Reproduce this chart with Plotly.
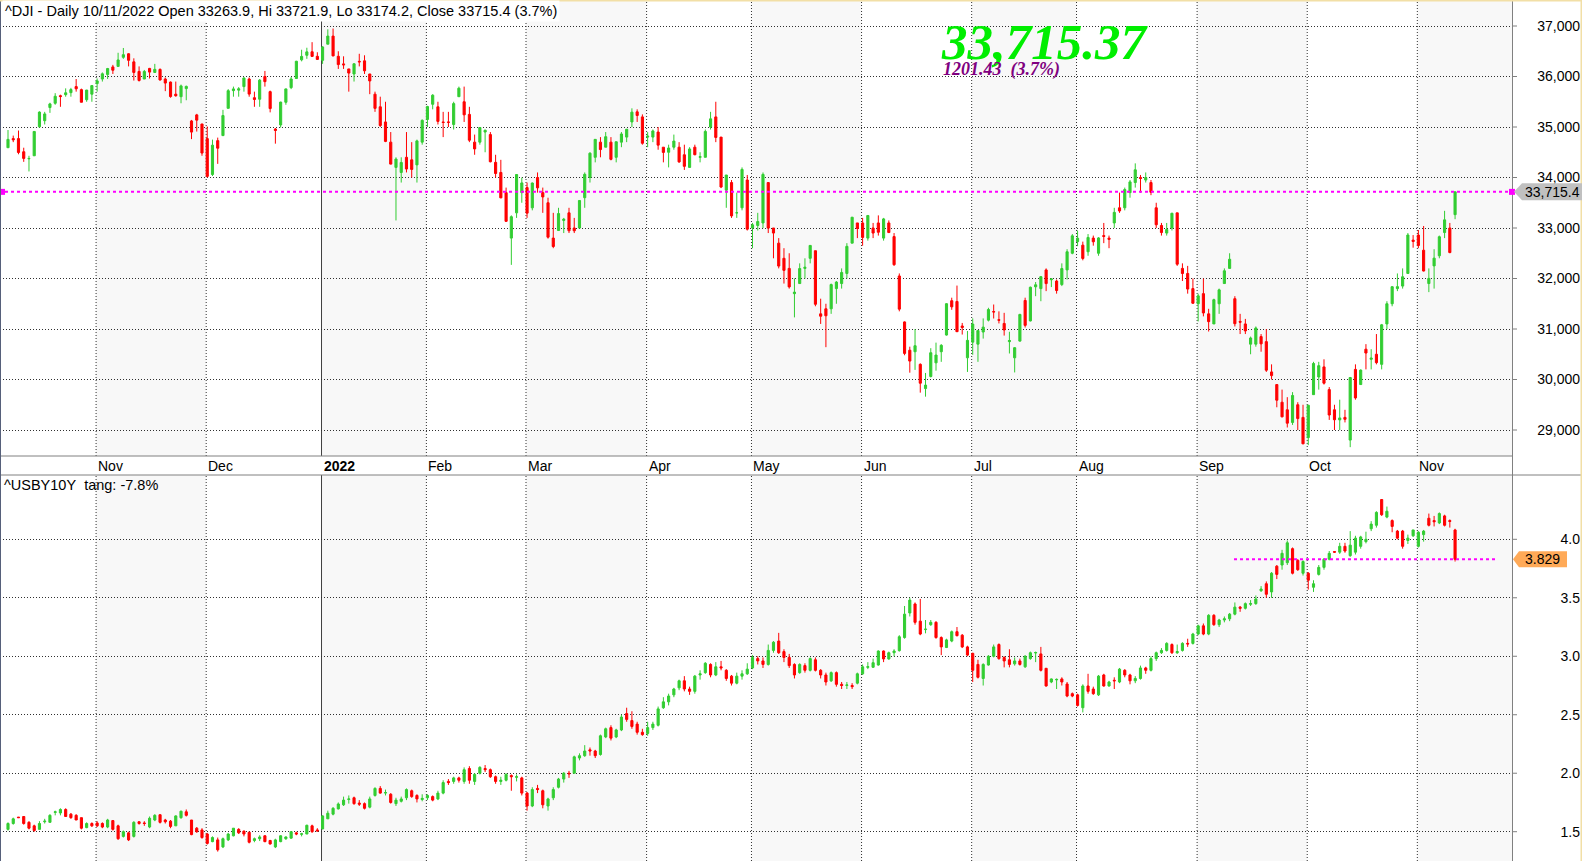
import pandas as pd
import plotly.graph_objects as go

# ---------------- data ----------------
holidays = ["2021-11-25", "2021-12-24", "2022-01-17", "2022-02-21", "2022-04-15",
            "2022-05-30", "2022-06-20", "2022-07-04", "2022-09-05"]
dates = pd.bdate_range("2021-10-07", "2022-11-10", freq="C", holidays=holidays)

dji_open = [
    34590, 34770, 34770, 34510, 34370, 34430, 35005, 35125, 35385, 35470, 35620, 35640, 35680, 35800, 35740, 35540, 35650,
    35860, 35950, 36040, 36190, 36200, 36380, 36450, 36290, 36100, 35950, 36160, 36080, 36140, 35950, 35890, 35650, 35600, 35760, 35120, 35240, 35060,
    34770, 34060, 34730, 34830, 35370, 35720, 35730, 35800, 35950, 35580, 35550, 36000, 35700, 34960, 35040, 35490, 35780, 35960, 36330, 36420, 36490, 36400,
    36320, 36640, 36800, 36400, 36250, 36150, 36050, 36300, 36310, 36050, 35650, 35400, 35100, 34700, 34200, 34100, 34400, 34350, 34250, 34700,
    35150, 35450, 35400, 35100, 35100, 35050, 35600, 35500, 35250, 34700, 34700, 34900, 34850, 34300, 34100, 33700, 32800, 33300, 33700,
    33800, 33400, 34000, 33700, 33500, 32800, 32950, 33150, 33300, 33000, 33000, 33600, 34000, 34400, 34700, 34600, 34700, 34400, 34700, 34800, 35100, 35300, 35200,
    34800, 34800, 34900, 34600, 34500, 34600, 34600, 34450, 34200, 34600, 34400, 34400, 35000, 35200, 34800, 33750, 33900, 33300, 33400, 33950,
    33000, 33050, 33100, 33900, 33000, 32700, 32400, 32200, 31700, 31900, 32200, 32400, 32550, 31300, 31400, 31400, 31800, 31900, 32100, 32700, 33100,
    33100, 32800, 33000, 33100, 32800, 33100, 32830, 32050, 31140, 30580, 30550, 30300, 29820, 30060, 30330, 30550, 30880, 31560, 31545, 31060, 30430,
    30740, 30700, 30940, 31175, 31345, 31185, 31110, 30750, 30430, 30760, 31565, 31160, 31835, 31800, 32170, 31975, 31950, 31880, 32170, 32500,
    32730, 32660, 32530, 32800, 32500, 32850, 32800, 33100, 33400, 33400, 33700, 33900, 34000, 33950, 33900, 33400, 33050, 32900, 33000, 33300, 32200, 32100, 31800,
    31500, 31700, 31300, 31100, 31500, 31900, 32200, 31600, 31150, 31100, 30700, 30700, 30850, 30750, 30150, 29900, 29550, 29400, 29150, 29500, 29250,
    28850, 29700, 30050, 30250, 29800, 29400, 29200, 29250, 28800, 30200, 29900, 30600, 30400, 30500, 30300, 31100, 31500, 31800, 31850, 32100, 32760,
    32860, 32560, 31900, 32250, 32450, 32910, 33000, 33263.9,
]
dji_high = [
    34940, 34830, 34930, 34590, 34430, 34920, 35310, 35300, 35480, 35670, 35640, 35765, 35775, 35950, 35760, 35735, 35830,
    35960, 36080, 36170, 36230, 36470, 36565, 36460, 36360, 36200, 36130, 36170, 36250, 36160, 35980, 35900, 35900, 35840, 35820, 35140, 35260, 35060,
    35010, 34750, 34790, 35340, 35750, 35800, 35790, 35980, 35980, 35700, 35950, 36110, 35720, 34980, 35500, 35760, 35990, 36310, 36530, 36570, 36680, 36480,
    36600, 36935, 36950, 36500, 36400, 36150, 36260, 36450, 36420, 36050, 35700, 35600, 35500, 34900, 34400, 34400, 34900, 34700, 34750, 35150,
    35420, 35650, 35500, 35300, 35300, 35500, 35800, 35800, 35400, 34850, 35000, 34950, 34900, 34450, 34350, 33800, 33250, 34060, 34000,
    33900, 33900, 34100, 33800, 33600, 33300, 33400, 33200, 33400, 33200, 33550, 34100, 34500, 34760, 34800, 34900, 34800, 34710, 34900, 34960, 35370, 35350, 35250,
    34900, 34950, 35000, 34600, 34650, 34850, 34700, 34650, 34600, 34650, 34500, 34950, 35300, 35500, 34800, 34050, 33950, 33700, 34200, 34050,
    33100, 33300, 34100, 33900, 33000, 32800, 32600, 32500, 32000, 32300, 32400, 32660, 32550, 31600, 31500, 31900, 31950, 32200, 32700, 33220, 33100,
    33200, 33250, 33100, 33250, 33200, 33150, 32900, 32100, 31150, 30650, 31000, 30320, 30130, 30620, 30730, 30700, 31510, 31620, 31860, 31120, 30960,
    31210, 30980, 31210, 31420, 31485, 31350, 31320, 30945, 30640, 31300, 31620, 31840, 31930, 32050, 32200, 32010, 31980, 32300, 32580, 32880,
    32950, 32730, 32880, 32850, 32820, 33100, 32850, 33400, 33700, 33800, 33950, 34280, 34050, 34100, 33950, 33500, 33100, 33100, 33300, 33300, 32300, 32250, 32000,
    31700, 32000, 31400, 31600, 31800, 32200, 32500, 31650, 31300, 31200, 30850, 31050, 30900, 31000, 30300, 29900, 29800, 29650, 29750, 29550, 29500,
    29500, 30350, 30350, 30400, 29850, 29500, 29600, 29400, 30050, 30300, 30200, 30700, 30600, 30900, 31100, 31550, 31850, 32100, 32200, 32900, 32860,
    32960, 33040, 32200, 32580, 32850, 33340, 33100, 33721.9,
]
dji_low = [
    34590, 34700, 34460, 34310, 34120, 34430, 34990, 35050, 35280, 35440, 35400, 35600, 35600, 35700, 35490, 35500, 35500,
    35700, 35900, 35950, 36050, 36200, 36350, 36200, 35920, 35900, 35950, 35960, 36070, 35920, 35710, 35580, 35600, 35470, 35530, 34760, 34910, 34430,
    34000, 34030, 34270, 34820, 35370, 35600, 35600, 35700, 35600, 35400, 35400, 35800, 35290, 34670, 34990, 35440, 35750, 35960, 36300, 36350, 36390, 36330,
    36250, 36640, 36400, 36150, 36150, 35700, 35900, 36200, 36050, 35650, 35300, 35000, 34700, 34260, 33150, 33900, 34100, 34000, 33900, 34650,
    35000, 35350, 35050, 34800, 35000, 34950, 35600, 35100, 34700, 34450, 34650, 34500, 34300, 34000, 33590, 33120, 32270, 33200, 33500,
    33200, 33350, 33700, 33300, 32790, 32600, 32950, 32900, 32900, 32900, 33000, 33400, 33900, 34300, 34400, 34600, 34340, 34300, 34600, 34700, 35000, 35100, 34650,
    34600, 34700, 34550, 34300, 34200, 34550, 34290, 34150, 34200, 34440, 34300, 34400, 34950, 34700, 33790, 33400, 33200, 33200, 33350, 32950,
    32600, 32950, 33000, 32900, 32400, 32200, 31900, 31800, 31230, 31900, 32000, 32300, 31450, 31100, 30640, 31300, 31500, 31800, 32000, 32700, 32800,
    32650, 32750, 32800, 32850, 32750, 32900, 32250, 31350, 30480, 30135, 30190, 29740, 29660, 30040, 30175, 30350, 30870, 31380, 30940, 30890, 30150,
    30490, 30350, 30810, 31150, 31208, 31110, 30870, 30515, 30140, 30750, 31030, 31150, 31650, 31550, 31750, 31830, 31700, 31850, 31980, 32480,
    32640, 32360, 32450, 32650, 32450, 32700, 32600, 33000, 33300, 33350, 33600, 33800, 33700, 33900, 33650, 33000, 32850, 32850, 32950, 32250, 31950, 31700, 31500,
    31150, 31250, 30950, 31100, 31300, 31900, 32200, 31050, 30900, 30900, 30500, 30650, 30550, 30150, 30000, 29450, 29250, 29050, 29100, 29000, 28720,
    28700, 29700, 29800, 29900, 29200, 29000, 29000, 29150, 28660, 29600, 29900, 30200, 30200, 30300, 30200, 31000, 31450, 31750, 31800, 32100, 32610,
    32600, 32140, 31730, 31800, 32400, 32800, 32500, 33174.2,
]
dji_close = [
    34755, 34746, 34496, 34378, 34377, 34912, 35295, 35259, 35457, 35609, 35603, 35677, 35741, 35757, 35490, 35731, 35820,
    35913, 36053, 36158, 36124, 36328, 36432, 36320, 36080, 35921, 36100, 36087, 36142, 35931, 35870, 35602, 35619, 35814, 35804, 34899, 35136, 34484,
    34022, 34640, 34580, 35227, 35719, 35754, 35755, 35971, 35651, 35545, 35928, 35898, 35365, 34932, 35493, 35754, 35951, 36302, 36398, 36488, 36398, 36338,
    36585, 36800, 36408, 36236, 36231, 36068, 36252, 36290, 36113, 35912, 35369, 35029, 34715, 34265, 34365, 34298, 34168, 34160, 34725, 35132,
    35405, 35630, 35111, 35089, 35092, 35463, 35768, 35241, 34738, 34566, 34989, 34935, 34312, 34079, 33597, 33132, 33224, 34059, 33893,
    33294, 33891, 33795, 33615, 32818, 32633, 33286, 33174, 32945, 32945, 33545, 34063, 34481, 34755, 34553, 34808, 34359, 34708, 34862, 34956, 35294, 35228, 34678,
    34818, 34922, 34641, 34497, 34584, 34721, 34309, 34221, 34565, 34451, 34412, 34912, 35161, 34793, 33811, 34049, 33240, 33302, 34160, 32977,
    33062, 33129, 34061, 32998, 32900, 32246, 32161, 31834, 31730, 32197, 32223, 32655, 31490, 31253, 31262, 31880, 31929, 32120, 32637, 33213, 32990,
    32813, 33248, 32900, 32916, 33180, 32910, 32273, 31393, 30517, 30365, 30669, 29927, 29889, 30530, 30484, 30677, 31501, 31439, 30947, 31029, 30775,
    31097, 30968, 31037, 31385, 31338, 31173, 30981, 30772, 30630, 31289, 31072, 31827, 31875, 32036, 31899, 31990, 31762, 32197, 32530, 32845,
    32798, 32397, 32813, 32727, 32803, 32833, 32775, 33310, 33337, 33761, 33913, 34152, 33981, 33999, 33707, 33064, 32910, 32970, 33292, 32283, 32099, 31791, 31510,
    31656, 31318, 31146, 31581, 31775, 32152, 32381, 31105, 31135, 30962, 30822, 31020, 30706, 30184, 30077, 29590, 29261, 29135, 29684, 29226, 28726,
    29490, 30317, 30274, 29927, 29297, 29203, 29239, 29211, 30039, 29635, 30186, 30524, 30424, 30334, 31083, 31500, 31837, 31839, 32034, 32861, 32733,
    32653, 32148, 32002, 32403, 32827, 33161, 32513.94, 33715.37,
]

y10_open = [
    1.52, 1.57, 1.625, 1.63, 1.58, 1.55, 1.52, 1.585, 1.58, 1.665, 1.66, 1.69, 1.65, 1.64, 1.62, 1.535, 1.57,
    1.575, 1.57, 1.54, 1.595, 1.55, 1.46, 1.49, 1.46, 1.585, 1.575, 1.54, 1.60, 1.645, 1.60, 1.59, 1.55, 1.62, 1.67, 1.60, 1.53, 1.515,
    1.48, 1.415, 1.43, 1.37, 1.43, 1.465, 1.52, 1.505, 1.495, 1.425, 1.44, 1.465, 1.425, 1.37, 1.415, 1.44, 1.445, 1.49, 1.478, 1.48, 1.55, 1.515,
    1.524, 1.61, 1.65, 1.695, 1.73, 1.775, 1.79, 1.745, 1.74, 1.71, 1.81, 1.87, 1.83, 1.82, 1.74, 1.76, 1.79, 1.85, 1.81, 1.775,
    1.79, 1.80, 1.78, 1.83, 1.93, 1.93, 1.96, 1.93, 2.04, 1.93, 2.00, 2.04, 2.03, 1.97, 1.93, 1.94, 1.98, 1.965, 1.96,
    1.83, 1.72, 1.87, 1.85, 1.72, 1.79, 1.88, 1.95, 2.00, 2.00, 2.13, 2.15, 2.20, 2.19, 2.16, 2.31, 2.39, 2.31, 2.37, 2.51, 2.45, 2.42, 2.35,
    2.34, 2.39, 2.41, 2.56, 2.61, 2.67, 2.73, 2.79, 2.72, 2.70, 2.84, 2.86, 2.93, 2.84, 2.91, 2.88, 2.83, 2.77, 2.83, 2.85,
    2.90, 2.98, 2.96, 2.93, 3.05, 3.13, 3.04, 2.99, 2.93, 2.86, 2.92, 2.88, 2.97, 2.88, 2.84, 2.79, 2.86, 2.76, 2.75, 2.75, 2.77,
    2.85, 2.905, 2.906, 2.925, 3.045, 2.977, 3.03, 3.048, 3.16, 3.37, 3.447, 3.30, 3.228, 3.27, 3.29, 3.16, 3.075, 3.13, 3.21, 3.18, 3.08,
    3.025, 2.93, 2.81, 2.925, 3.00, 3.10, 2.99, 2.97, 2.935, 2.96, 2.91, 2.98, 3.028, 3.02, 2.897, 2.78, 2.798, 2.806, 2.763, 2.68,
    2.67, 2.56, 2.746, 2.72, 2.67, 2.84, 2.746, 2.795, 2.78, 2.88, 2.84, 2.79, 2.81, 2.90, 2.88, 2.98, 3.03, 3.05, 3.10, 3.03, 3.05, 3.11, 3.11,
    3.19, 3.26, 3.19, 3.35, 3.27, 3.31, 3.32, 3.36, 3.42, 3.41, 3.445, 3.45, 3.56, 3.62, 3.55, 3.77, 3.78, 3.80, 3.92, 3.82, 3.71,
    3.71, 3.59, 3.70, 3.76, 3.83, 3.895, 3.89, 3.94, 3.86, 3.89, 3.94, 3.98, 4.09, 4.12, 4.34, 4.19, 4.16, 4.07, 4.07, 3.99, 4.03,
    3.94, 4.04, 4.18, 4.16, 4.14, 4.20, 4.16, 4.08,
]
y10_high = [
    1.58, 1.62, 1.625, 1.63, 1.59, 1.56, 1.59, 1.61, 1.65, 1.68, 1.70, 1.70, 1.66, 1.65, 1.62, 1.58, 1.58,
    1.59, 1.58, 1.61, 1.60, 1.56, 1.51, 1.50, 1.59, 1.59, 1.59, 1.63, 1.65, 1.65, 1.61, 1.60, 1.64, 1.68, 1.69, 1.60, 1.54, 1.53,
    1.49, 1.46, 1.45, 1.45, 1.49, 1.53, 1.53, 1.51, 1.50, 1.45, 1.47, 1.47, 1.43, 1.44, 1.47, 1.46, 1.50, 1.50, 1.49, 1.56, 1.56, 1.53,
    1.64, 1.68, 1.71, 1.75, 1.80, 1.81, 1.80, 1.77, 1.75, 1.80, 1.88, 1.89, 1.86, 1.83, 1.79, 1.80, 1.87, 1.86, 1.82, 1.82,
    1.82, 1.81, 1.85, 1.94, 1.95, 1.97, 1.97, 2.05, 2.06, 2.00, 2.06, 2.07, 2.04, 1.98, 1.97, 2.00, 1.99, 1.99, 1.97,
    1.84, 1.88, 1.90, 1.86, 1.79, 1.88, 1.96, 2.01, 2.02, 2.15, 2.17, 2.24, 2.22, 2.20, 2.33, 2.39, 2.41, 2.38, 2.50, 2.56, 2.53, 2.44, 2.38,
    2.44, 2.44, 2.57, 2.65, 2.68, 2.73, 2.80, 2.83, 2.74, 2.84, 2.88, 2.95, 2.94, 2.95, 2.96, 2.89, 2.84, 2.86, 2.88, 2.94,
    3.01, 3.00, 2.99, 3.10, 3.13, 3.20, 3.06, 3.02, 2.94, 2.94, 2.94, 2.99, 2.99, 2.89, 2.86, 2.87, 2.87, 2.78, 2.78, 2.77, 2.86,
    2.93, 2.95, 2.98, 3.05, 3.05, 3.04, 3.06, 3.18, 3.43, 3.50, 3.46, 3.49, 3.31, 3.31, 3.30, 3.17, 3.15, 3.22, 3.25, 3.19, 3.09,
    3.03, 2.97, 2.94, 3.01, 3.10, 3.11, 3.00, 3.06, 2.99, 2.98, 3.01, 3.04, 3.04, 3.08, 2.90, 2.81, 2.81, 2.82, 2.78, 2.69,
    2.68, 2.76, 2.85, 2.74, 2.84, 2.85, 2.79, 2.82, 2.90, 2.89, 2.85, 2.83, 2.92, 2.91, 3.00, 3.04, 3.07, 3.12, 3.11, 3.10, 3.12, 3.15, 3.20,
    3.27, 3.28, 3.36, 3.36, 3.32, 3.34, 3.37, 3.46, 3.43, 3.46, 3.48, 3.52, 3.60, 3.64, 3.72, 3.78, 3.91, 3.99, 3.93, 3.83, 3.82,
    3.72, 3.65, 3.78, 3.84, 3.90, 3.895, 3.97, 3.97, 4.07, 4.03, 4.03, 4.065, 4.155, 4.24, 4.34, 4.28, 4.17, 4.08, 4.08, 4.04, 4.08,
    4.07, 4.08, 4.22, 4.20, 4.23, 4.21, 4.17, 4.09,
]
y10_low = [
    1.51, 1.56, 1.62, 1.56, 1.52, 1.50, 1.52, 1.57, 1.58, 1.64, 1.64, 1.63, 1.61, 1.60, 1.52, 1.53, 1.54,
    1.54, 1.53, 1.53, 1.51, 1.43, 1.45, 1.42, 1.45, 1.56, 1.55, 1.53, 1.59, 1.57, 1.57, 1.53, 1.55, 1.61, 1.63, 1.47, 1.49, 1.44,
    1.39, 1.41, 1.33, 1.36, 1.42, 1.46, 1.48, 1.46, 1.40, 1.41, 1.42, 1.41, 1.39, 1.36, 1.41, 1.43, 1.44, 1.47, 1.46, 1.48, 1.49, 1.50,
    1.52, 1.61, 1.64, 1.69, 1.72, 1.74, 1.73, 1.72, 1.69, 1.70, 1.80, 1.825, 1.81, 1.74, 1.72, 1.75, 1.77, 1.79, 1.75, 1.76,
    1.77, 1.76, 1.77, 1.82, 1.90, 1.91, 1.92, 1.91, 1.91, 1.90, 1.99, 2.01, 1.96, 1.91, 1.90, 1.93, 1.85, 1.93, 1.81,
    1.68, 1.71, 1.83, 1.70, 1.68, 1.77, 1.87, 1.92, 1.96, 2.00, 2.11, 2.14, 2.15, 2.13, 2.15, 2.30, 2.28, 2.30, 2.36, 2.44, 2.38, 2.33, 2.32,
    2.32, 2.37, 2.40, 2.55, 2.58, 2.65, 2.71, 2.70, 2.67, 2.68, 2.80, 2.85, 2.82, 2.83, 2.88, 2.79, 2.75, 2.76, 2.80, 2.84,
    2.89, 2.93, 2.90, 2.92, 3.03, 3.02, 2.95, 2.90, 2.81, 2.85, 2.86, 2.87, 2.87, 2.81, 2.75, 2.78, 2.74, 2.72, 2.72, 2.72, 2.76,
    2.84, 2.89, 2.90, 2.92, 2.95, 2.97, 3.00, 3.04, 3.15, 3.34, 3.27, 3.18, 3.196, 3.26, 3.15, 3.01, 3.07, 3.12, 3.17, 3.07, 3.00,
    2.78, 2.81, 2.75, 2.92, 2.99, 2.97, 2.905, 2.905, 2.92, 2.92, 2.90, 2.97, 2.95, 2.87, 2.74, 2.77, 2.72, 2.75, 2.65, 2.65,
    2.57, 2.52, 2.68, 2.67, 2.66, 2.74, 2.74, 2.72, 2.77, 2.82, 2.76, 2.77, 2.80, 2.85, 2.87, 2.96, 3.02, 3.04, 3.02, 3.02, 3.04, 3.08, 3.10,
    3.18, 3.18, 3.18, 3.26, 3.25, 3.29, 3.30, 3.35, 3.38, 3.40, 3.43, 3.44, 3.55, 3.50, 3.50, 3.66, 3.74, 3.78, 3.70, 3.73, 3.69,
    3.57, 3.55, 3.69, 3.74, 3.82, 3.885, 3.875, 3.885, 3.85, 3.87, 3.92, 3.965, 4.07, 4.10, 4.20, 4.18, 4.06, 4.00, 3.92, 3.96, 4.02,
    3.93, 3.98, 4.11, 4.11, 4.13, 4.11, 4.10, 3.81,
]
y10_close = [
    1.57, 1.61, 1.62, 1.57, 1.53, 1.51, 1.57, 1.59, 1.64, 1.67, 1.69, 1.63, 1.62, 1.60, 1.53, 1.57, 1.55,
    1.55, 1.54, 1.60, 1.52, 1.44, 1.50, 1.43, 1.58, 1.57, 1.57, 1.615, 1.64, 1.58, 1.585, 1.545, 1.635, 1.675, 1.64, 1.475, 1.50, 1.45,
    1.40, 1.45, 1.345, 1.44, 1.48, 1.53, 1.49, 1.48, 1.41, 1.44, 1.455, 1.415, 1.395, 1.43, 1.465, 1.455, 1.50, 1.48, 1.482, 1.555, 1.50, 1.507,
    1.635, 1.658, 1.70, 1.737, 1.77, 1.78, 1.74, 1.735, 1.70, 1.78, 1.87, 1.83, 1.835, 1.75, 1.77, 1.78, 1.86, 1.80, 1.78, 1.785,
    1.81, 1.77, 1.83, 1.92, 1.92, 1.96, 1.94, 2.03, 1.94, 1.99, 2.05, 2.03, 1.97, 1.93, 1.94, 1.99, 1.97, 1.97, 1.83,
    1.72, 1.86, 1.86, 1.73, 1.78, 1.86, 1.95, 2.00, 1.995, 2.14, 2.15, 2.19, 2.19, 2.15, 2.32, 2.38, 2.30, 2.37, 2.48, 2.46, 2.40, 2.35, 2.33,
    2.39, 2.42, 2.55, 2.61, 2.66, 2.72, 2.79, 2.72, 2.70, 2.83, 2.85, 2.94, 2.84, 2.91, 2.90, 2.81, 2.77, 2.83, 2.85, 2.89,
    2.99, 2.96, 2.93, 3.05, 3.12, 3.03, 2.99, 2.92, 2.84, 2.93, 2.88, 2.98, 2.88, 2.84, 2.78, 2.86, 2.76, 2.75, 2.755, 2.74, 2.85,
    2.91, 2.911, 2.945, 3.045, 2.977, 3.03, 3.045, 3.167, 3.36, 3.48, 3.29, 3.19, 3.232, 3.29, 3.16, 3.08, 3.14, 3.21, 3.176, 3.08, 3.01,
    2.88, 2.82, 2.93, 3.00, 3.08, 2.98, 2.96, 2.93, 2.96, 2.93, 3.00, 3.03, 3.032, 2.88, 2.746, 2.806, 2.802, 2.78, 2.66, 2.66,
    2.58, 2.746, 2.70, 2.68, 2.83, 2.746, 2.78, 2.79, 2.89, 2.84, 2.79, 2.81, 2.90, 2.88, 2.98, 3.03, 3.05, 3.11, 3.03, 3.04, 3.11, 3.105, 3.19,
    3.26, 3.19, 3.35, 3.27, 3.31, 3.32, 3.36, 3.42, 3.41, 3.45, 3.45, 3.49, 3.575, 3.53, 3.71, 3.70, 3.88, 3.97, 3.71, 3.74, 3.81,
    3.65, 3.62, 3.76, 3.83, 3.88, 3.89, 3.94, 3.90, 3.95, 4.01, 4.02, 4.00, 4.13, 4.23, 4.21, 4.24, 4.11, 4.01, 3.94, 4.01, 4.08,
    4.06, 4.07, 4.12, 4.15, 4.22, 4.12, 4.153, 3.829,
]

top_ticks = [29000, 30000, 31000, 32000, 33000, 34000, 35000, 36000, 37000]
bot_ticks = [1.5, 2.0, 2.5, 3.0, 3.5, 4.0]

n = len(dates)
for arr in (dji_open, dji_high, dji_low, dji_close, y10_open, y10_high, y10_low, y10_close):
    assert len(arr) == n, (len(arr), n)
x = list(range(n))

# ---------------- layout constants (pixels) ----------------
W, H = 1582, 861
FONT = "Arial, 'Liberation Sans', sans-serif"
SERIF = "'Times New Roman', 'Liberation Serif', serif"
GREEN, RED = "#32CD32", "#FF0000"
X0_PX, STEP_PX, PLOT_R = 8.0, 5.243, 1512.0
TOP_T, TOP_B = 0.0, 456.0
BOT_T, BOT_B = 475.0, 861.0


def fx(px):
    return px / W


def fy(py):
    return 1 - py / H


x_range = [-X0_PX / STEP_PX, (PLOT_R - X0_PX) / STEP_PX]
top_ppu = (430.0 - 26.0) / (37000 - 29000)
top_range = [29000 - (TOP_B - 430.0) / top_ppu, 37000 + (26.0 - TOP_T) / top_ppu]
bot_ppu = (831.7 - 539.3) / (4.0 - 1.5)
bot_range = [1.5 - (BOT_B - 831.7) / bot_ppu, 4.0 + (539.3 - BOT_T) / bot_ppu]

# ---------------- figure ----------------
fig = go.Figure()
for xa, ya, o, h, l, c in (("x", "y", dji_open, dji_high, dji_low, dji_close),
                           ("x2", "y2", y10_open, y10_high, y10_low, y10_close)):
    fig.add_trace(go.Candlestick(
        x=x, open=o, high=h, low=l, close=c, xaxis=xa, yaxis=ya,
        increasing=dict(line=dict(color=GREEN, width=1), fillcolor=GREEN),
        decreasing=dict(line=dict(color=RED, width=1), fillcolor=RED),
        whiskerwidth=0, hoverinfo="skip", showlegend=False))

month_starts = [i for i in range(1, n) if dates[i].month != dates[i - 1].month]
month_labels = [str(dates[i].year) if dates[i].month == 1 else dates[i].strftime("%b") for i in month_starts]

shapes = []
annotations = []

# alternating month shading
bounds = [x_range[0]] + [m - 0.2 for m in month_starts] + [x_range[1]]
for k in range(len(bounds) - 1):
    if k % 2 == 1:
        for xr, yr in (("x", "y domain"), ("x2", "y2 domain")):
            shapes.append(dict(type="rect", xref=xr, yref=yr, x0=bounds[k], x1=bounds[k + 1], y0=0, y1=1,
                               fillcolor="#f8f8f8", line=dict(width=0), layer="below"))
# month gridlines
for m, lab in zip(month_starts, month_labels):
    year = lab.isdigit()
    for xr, yr in (("x", "y domain"), ("x2", "y2 domain")):
        shapes.append(dict(type="line", xref=xr, yref=yr, x0=m - 0.2, x1=m - 0.2, y0=0, y1=1,
                           line=dict(color="#404040" if year else "#303030", width=1,
                                     dash="solid" if year else "1px,2px"), layer="below"))
    annotations.append(dict(xref="x", yref="paper", x=m - 0.2, y=fy(465.5), text=f"<b>{lab}</b>" if year else lab,
                            showarrow=False, xanchor="left", yanchor="middle",
                            font=dict(family=FONT, size=14, color="#000000")))

# frame lines
GRAYLINE = "#808080"
shapes += [
    dict(type="line", xref="paper", yref="paper", x0=0, x1=fx(PLOT_R), y0=fy(TOP_B), y1=fy(TOP_B), line=dict(color=GRAYLINE, width=1)),
    dict(type="line", xref="paper", yref="paper", x0=0, x1=1, y0=fy(BOT_T), y1=fy(BOT_T), line=dict(color=GRAYLINE, width=1)),
    dict(type="line", xref="paper", yref="paper", x0=fx(PLOT_R + 0.5), x1=fx(PLOT_R + 0.5), y0=0, y1=1, line=dict(color=GRAYLINE, width=1)),
    dict(type="line", xref="paper", yref="paper", x0=fx(0.5), x1=fx(0.5), y0=0, y1=1, line=dict(color="#56607a", width=1)),
    dict(type="line", xref="paper", yref="paper", x0=0, x1=1, y0=fy(0.5), y1=fy(0.5), line=dict(color="#f2dfa6", width=2)),
    dict(type="line", xref="paper", yref="paper", x0=fx(W - 0.5), x1=fx(W - 0.5), y0=0, y1=1, line=dict(color="#f2dfa6", width=2)),
]
for ya, ticks in (("y", top_ticks), ("y2", bot_ticks)):
    for t in ticks:
        shapes.append(dict(type="line", xref="paper", yref=ya, x0=fx(PLOT_R), x1=fx(PLOT_R + 5), y0=t, y1=t,
                           line=dict(color=GRAYLINE, width=1)))

# last-value lines and tags
last_c, prev_c = dji_close[-1], dji_close[-2]
y_last, y_prev = y10_close[-1], y10_close[-2]
MAG = "#FF00FF"
shapes.append(dict(type="line", xref="paper", yref="y", x0=fx(5), x1=fx(1509), y0=last_c, y1=last_c,
                   line=dict(color=MAG, width=2, dash="3px,3px")))
hh = 3 / top_ppu
for a, b in ((1, 5), (1509, 1515)):
    shapes.append(dict(type="rect", xref="paper", yref="y", x0=fx(a), x1=fx(b), y0=last_c - hh, y1=last_c + hh,
                       fillcolor=MAG, line=dict(width=0)))
shapes.append(dict(type="line", xref="paper", yref="y2", x0=fx(1234), x1=fx(1496), y0=y_last, y1=y_last,
                   line=dict(color=MAG, width=2, dash="3px,3px")))


def tag(yref, yc, half, x_tip, x_body, x_end, color):
    p = (f"M {fx(x_tip)},{yc} L {fx(x_body)},{yc + half} L {fx(x_end)},{yc + half} "
         f"L {fx(x_end)},{yc - half} L {fx(x_body)},{yc - half} Z")
    return dict(type="path", xref="paper", yref=yref, path=p, fillcolor=color, line=dict(width=0))


shapes.append(tag("y", last_c, 8.5 / top_ppu, 1514, 1522, W, "#c0c0c0"))
shapes.append(tag("y2", y_last, 8.0 / bot_ppu, 1513, 1519, 1567, "#ffaa58"))
annotations.append(dict(xref="paper", yref="y", x=fx(1523), y=last_c, text=f"{last_c:,.1f}", showarrow=False,
                        xanchor="left", yanchor="middle", font=dict(family=FONT, size=14, color="#000000")))
annotations.append(dict(xref="paper", yref="y2", x=fx(1523), y=y_last, text=f"{y_last:.3f}", showarrow=False,
                        xanchor="left", yanchor="middle", font=dict(family=FONT, size=14, color="#000000")))

# header texts
pct = (last_c - prev_c) / prev_c * 100
ypct = (y_last - y_prev) / y_prev * 100
header = (f"^DJI - Daily {dates[-1].strftime('%d/%m/%Y')} Open {dji_open[-1]:.1f}, Hi {dji_high[-1]:.1f}, "
          f"Lo {dji_low[-1]:.1f}, Close {last_c:.1f} ({pct:.1f}%)")
annotations.append(dict(xref="paper", yref="paper", x=fx(2), y=fy(11), text=header, showarrow=False,
                        xanchor="left", yanchor="middle", bgcolor="#ffffff", borderpad=2,
                        font=dict(family=FONT, size=14.5, color="#000000")))
annotations.append(dict(xref="paper", yref="paper", x=fx(2), y=fy(485), text=f"^USBY10Y\u00a0 tang: {ypct:.1f}%",
                        showarrow=False, xanchor="left", yanchor="middle",
                        font=dict(family=FONT, size=14.5, color="#000000")))
annotations.append(dict(xref="paper", yref="paper", x=fx(1045), y=fy(42), text=f"<b><i>{last_c:,.2f}</i></b>",
                        showarrow=False, xanchor="center", yanchor="middle",
                        font=dict(family=SERIF, size=51, color="#00EE00")))
annotations.append(dict(xref="paper", yref="paper", x=fx(941), y=fy(69),
                        text=f"<b><i>{last_c - prev_c:.2f}\u00a0 ({pct:.1f}%)</i></b>",
                        showarrow=False, xanchor="left", yanchor="middle",
                        font=dict(family=SERIF, size=18, color="#800080")))

axis_common = dict(showgrid=False, zeroline=False, showticklabels=False, ticks="", showline=False,
                   range=x_range, domain=[0, fx(PLOT_R)], rangeslider=dict(visible=False), fixedrange=True)
ycommon = dict(anchor="free", side="left", position=fx(1580), ticks="", showline=False, zeroline=False,
               showgrid=True, gridcolor="#303030", gridwidth=1, griddash="1px,2px", fixedrange=True,
               tickfont=dict(family=FONT, size=14, color="#000000"))

fig.update_layout(
    width=W, height=H, margin=dict(l=0, r=0, t=0, b=0, pad=0),
    paper_bgcolor="#ffffff", plot_bgcolor="#ffffff",
    showlegend=False, hovermode=False, boxgap=0.42,
    xaxis=dict(anchor="y", **axis_common),
    xaxis2=dict(anchor="y2", matches="x", **axis_common),
    yaxis=dict(domain=[fy(TOP_B), fy(TOP_T)], range=top_range, tickvals=top_ticks,
               ticktext=[f"{v:,}" for v in top_ticks], **ycommon),
    yaxis2=dict(domain=[fy(BOT_B), fy(BOT_T)], range=bot_range, tickvals=bot_ticks,
                ticktext=[f"{v:.1f}" for v in bot_ticks], **ycommon),
    shapes=shapes, annotations=annotations,
)

fig.write_html("out.html", config={"displayModeBar": False},
               post_script="document.body.style.margin='0';document.body.style.padding='0';"
                           "document.body.style.overflow='hidden';")
